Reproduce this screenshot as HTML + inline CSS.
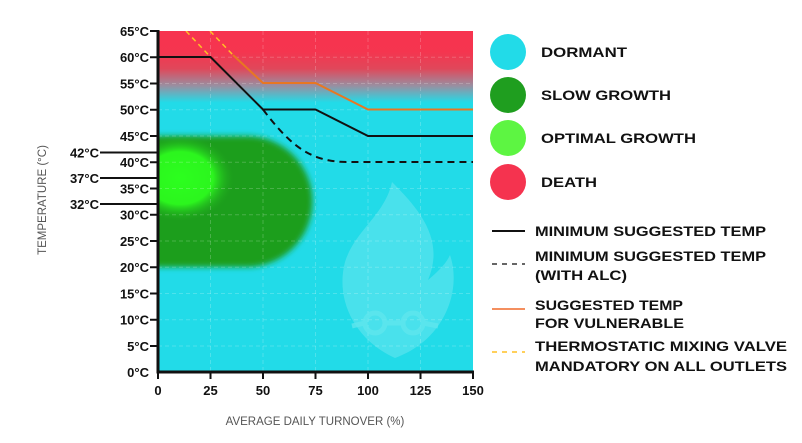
<!DOCTYPE html>
<html><head><meta charset="utf-8"><style>
html,body{margin:0;padding:0;background:#fff;}
svg{display:block;font-family:"Liberation Sans",sans-serif;}
.t{font-weight:bold;font-size:13px;fill:#111;}
.l{font-weight:bold;font-size:14px;fill:#111;}
</style></head><body>
<svg width="802" height="443" viewBox="0 0 802 443" xmlns="http://www.w3.org/2000/svg">
<defs>
<linearGradient id="bg" x1="0" y1="0" x2="0" y2="1">
<stop offset="0" stop-color="#f7334f"/>
<stop offset="0.06" stop-color="#f5354f"/>
<stop offset="0.11" stop-color="#e0475a"/>
<stop offset="0.16" stop-color="#9a8ea0"/>
<stop offset="0.21" stop-color="#22dbe8"/>
<stop offset="1" stop-color="#22dbe8"/>
</linearGradient>
<clipPath id="c"><rect x="158" y="31" width="315" height="341"/></clipPath>
<filter id="b" x="-20%" y="-20%" width="140%" height="140%"><feGaussianBlur stdDeviation="3"/></filter>
<radialGradient id="g" cx="0.5" cy="0.5" r="0.5">
<stop offset="0" stop-color="#2cff1e"/>
<stop offset="0.6" stop-color="#2cf51e"/>
<stop offset="1" stop-color="#1f9e1f" stop-opacity="0"/>
</radialGradient>
</defs>
<g clip-path="url(#c)">
<rect x="158" y="31" width="315" height="341" fill="url(#bg)"/>
<path d="M140,136 L247,136 A65.5,65.5 0 0 1 247,267 L140,267 Z" fill="#1f9e1f" filter="url(#b)"/>
<ellipse cx="180" cy="178" rx="55" ry="44" fill="url(#g)"/>
<g stroke="#ffffff" stroke-opacity="0.2" stroke-dasharray="4,3" stroke-width="1">
<line x1="210.5" y1="31" x2="210.5" y2="372"/><line x1="263" y1="31" x2="263" y2="372"/>
<line x1="315.5" y1="31" x2="315.5" y2="372"/><line x1="368" y1="31" x2="368" y2="372"/>
<line x1="420.5" y1="31" x2="420.5" y2="372"/>
<line x1="158" y1="57.25" x2="473" y2="57.25"/><line x1="158" y1="83.5" x2="473" y2="83.5"/>
<line x1="158" y1="109.75" x2="473" y2="109.75"/><line x1="158" y1="136" x2="473" y2="136"/>
<line x1="158" y1="162.25" x2="473" y2="162.25"/><line x1="158" y1="188.5" x2="473" y2="188.5"/>
<line x1="158" y1="214.75" x2="473" y2="214.75"/><line x1="158" y1="241" x2="473" y2="241"/>
<line x1="158" y1="267.25" x2="473" y2="267.25"/><line x1="158" y1="293.5" x2="473" y2="293.5"/>
<line x1="158" y1="319.75" x2="473" y2="319.75"/><line x1="158" y1="346" x2="473" y2="346"/>
</g>
<path d="M392,182 C420,210 445,240 428,280 C440,270 447,262 450,255 C462,290 445,340 395,358 C355,340 335,300 345,262 C355,230 385,215 392,182 Z" fill="#ffffff" fill-opacity="0.18"/>
<g fill="none" stroke="#5fe6ee" stroke-width="5" opacity="0.8">
<circle cx="375" cy="323" r="10"/><circle cx="413" cy="323" r="10"/>
<line x1="385" y1="323" x2="403" y2="323"/><path d="M352,326 L365,323"/><path d="M423,323 L438,326"/>
</g>
<polyline points="158,57 210.5,57 263,109.5 315.5,109.5 368,136 473,136" fill="none" stroke="#111" stroke-width="2"/>
<path d="M263,109.5 C290,145 310,162 347,162 L473,162" fill="none" stroke="#111" stroke-width="2" stroke-dasharray="7,5"/>
<polyline points="233,55 263,83 315.5,83 368,109.5 473,109.5" fill="none" stroke="#e87722" stroke-width="2"/>
<line x1="186" y1="31" x2="210.5" y2="57" stroke="#ffc125" stroke-width="1.5" stroke-dasharray="5,4"/>
<line x1="210" y1="31" x2="233" y2="55" stroke="#ffc125" stroke-width="1.5" stroke-dasharray="5,4"/>
</g>
<line x1="158" y1="30" x2="158" y2="373.5" stroke="#111" stroke-width="3"/>
<line x1="156.5" y1="372" x2="474" y2="372" stroke="#111" stroke-width="3"/>
<g stroke="#111" stroke-width="2">
<line x1="150" y1="31" x2="158" y2="31"/><line x1="150" y1="57.25" x2="158" y2="57.25"/>
<line x1="150" y1="83.5" x2="158" y2="83.5"/><line x1="150" y1="109.75" x2="158" y2="109.75"/>
<line x1="150" y1="136" x2="158" y2="136"/><line x1="150" y1="162.25" x2="158" y2="162.25"/>
<line x1="150" y1="188.5" x2="158" y2="188.5"/><line x1="150" y1="214.75" x2="158" y2="214.75"/>
<line x1="150" y1="241" x2="158" y2="241"/><line x1="150" y1="267.25" x2="158" y2="267.25"/>
<line x1="150" y1="293.5" x2="158" y2="293.5"/><line x1="150" y1="319.75" x2="158" y2="319.75"/>
<line x1="150" y1="346" x2="158" y2="346"/>
<line x1="100" y1="152.5" x2="158" y2="152.5"/><line x1="100" y1="178" x2="158" y2="178"/><line x1="100" y1="204" x2="158" y2="204"/>
<line x1="158" y1="372" x2="158" y2="379"/><line x1="210.5" y1="372" x2="210.5" y2="379"/>
<line x1="263" y1="372" x2="263" y2="379"/><line x1="315.5" y1="372" x2="315.5" y2="379"/>
<line x1="368" y1="372" x2="368" y2="379"/><line x1="420.5" y1="372" x2="420.5" y2="379"/>
<line x1="473" y1="372" x2="473" y2="379"/>
</g>
<g class="t" text-anchor="end">
<text x="149" y="36">65°C</text><text x="149" y="62">60°C</text><text x="149" y="88.5">55°C</text>
<text x="149" y="114.5">50°C</text><text x="149" y="141">45°C</text><text x="149" y="167">40°C</text>
<text x="149" y="193.5">35°C</text><text x="149" y="219.5">30°C</text><text x="149" y="246">25°C</text>
<text x="149" y="272">20°C</text><text x="149" y="298.5">15°C</text><text x="149" y="324.5">10°C</text>
<text x="149" y="351">5°C</text><text x="149" y="377">0°C</text>
<text x="99" y="157.5">42°C</text><text x="99" y="183">37°C</text><text x="99" y="209">32°C</text>
</g>
<g class="t" text-anchor="middle">
<text x="158" y="395">0</text><text x="210.5" y="395">25</text><text x="263" y="395">50</text>
<text x="315.5" y="395">75</text><text x="368" y="395">100</text><text x="420.5" y="395">125</text><text x="473" y="395">150</text>
</g>
<text x="315" y="425" text-anchor="middle" font-size="11.5" fill="#555">AVERAGE DAILY TURNOVER (%)</text>
<text transform="translate(46,200) rotate(-90)" text-anchor="middle" font-size="11.5" fill="#555">TEMPERATURE (°C)</text>
<circle cx="508" cy="52" r="18" fill="#22dbe8"/>
<circle cx="508" cy="95" r="18" fill="#1f9e1f"/>
<circle cx="508" cy="138" r="18" fill="#5df542"/>
<circle cx="508" cy="182" r="18" fill="#f5334f"/>
<g class="l">
<text x="541" y="57" textLength="86" lengthAdjust="spacingAndGlyphs">DORMANT</text>
<text x="541" y="100" textLength="130" lengthAdjust="spacingAndGlyphs">SLOW GROWTH</text>
<text x="541" y="143" textLength="155" lengthAdjust="spacingAndGlyphs">OPTIMAL GROWTH</text>
<text x="541" y="187" textLength="56" lengthAdjust="spacingAndGlyphs">DEATH</text>
<text x="535" y="236" textLength="231" lengthAdjust="spacingAndGlyphs">MINIMUM SUGGESTED TEMP</text>
<text x="535" y="261" textLength="231" lengthAdjust="spacingAndGlyphs">MINIMUM SUGGESTED TEMP</text>
<text x="535" y="280" textLength="92" lengthAdjust="spacingAndGlyphs">(WITH ALC)</text>
<text x="535" y="310" textLength="148" lengthAdjust="spacingAndGlyphs">SUGGESTED TEMP</text>
<text x="535" y="328" textLength="149" lengthAdjust="spacingAndGlyphs">FOR VULNERABLE</text>
<text x="535" y="351" textLength="252" lengthAdjust="spacingAndGlyphs">THERMOSTATIC MIXING VALVE</text>
<text x="535" y="371" textLength="252" lengthAdjust="spacingAndGlyphs">MANDATORY ON ALL OUTLETS</text>
</g>
<line x1="492" y1="231" x2="525" y2="231" stroke="#111" stroke-width="2"/>
<line x1="492" y1="264" x2="525" y2="264" stroke="#333" stroke-width="1.5" stroke-dasharray="5,5"/>
<line x1="492" y1="309" x2="525" y2="309" stroke="#f06a2a" stroke-width="1.5"/>
<line x1="492" y1="352" x2="525" y2="352" stroke="#ffc125" stroke-width="1.5" stroke-dasharray="5,5"/>
</svg>
</body></html>
